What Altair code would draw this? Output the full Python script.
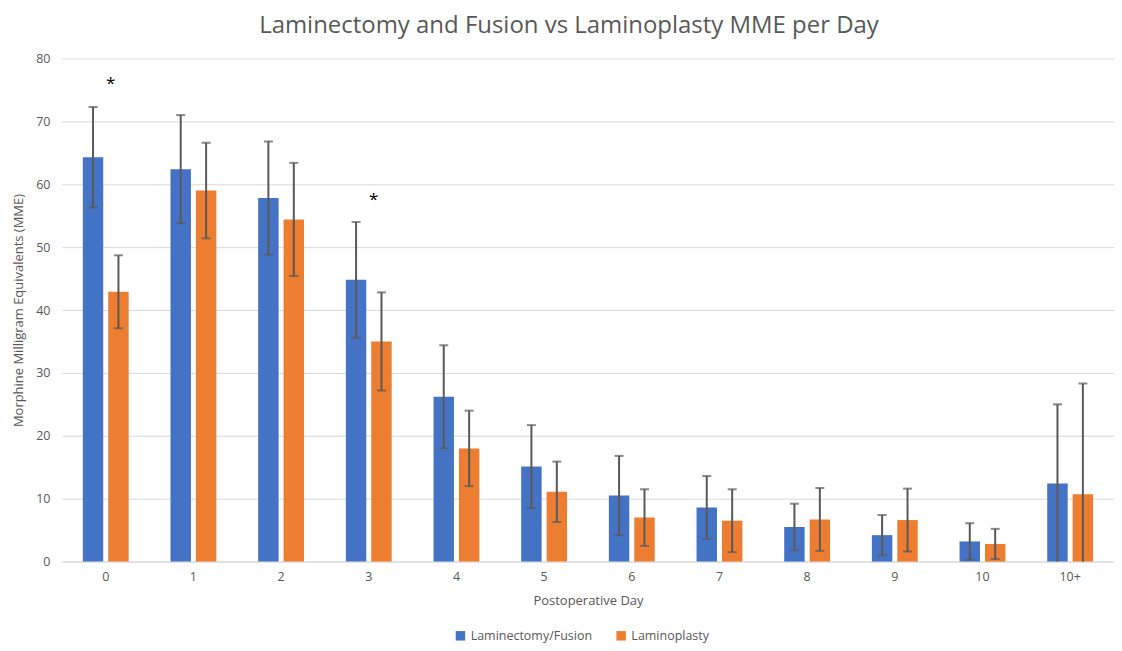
import altair as alt
import pandas as pd

days = ["0", "1", "2", "3", "4", "5", "6", "7", "8", "9", "10", "10+"]
series = ["Laminectomy/Fusion", "Laminoplasty"]
fusion_mean = [64.3, 62.4, 57.8, 44.8, 26.2, 15.1, 10.5, 8.6, 5.5, 4.2, 3.2, 12.4]
fusion_err = [8.0, 8.6, 9.0, 9.2, 8.2, 6.6, 6.3, 5.0, 3.7, 3.2, 2.9, 12.6]
plasty_mean = [42.9, 59.0, 54.4, 35.0, 18.0, 11.1, 7.0, 6.5, 6.7, 6.6, 2.8, 10.7]
plasty_err = [5.8, 7.6, 9.0, 7.8, 6.0, 4.8, 4.5, 5.0, 5.0, 5.0, 2.4, 17.6]
sig_days = ["0", "3"]
sig_y = [76.5, 58.1]

rows = []
for s, means, errs in [(series[0], fusion_mean, fusion_err), (series[1], plasty_mean, plasty_err)]:
    for d, m, e in zip(days, means, errs):
        rows.append({"day": d, "series": s, "mean": m,
                     "low": max(0.0, m - e), "high": m + e})
df = pd.DataFrame(rows)
sig = pd.DataFrame({"day": sig_days, "y": sig_y})

grey = "#595959"
font = "Open Sans"

x_enc = alt.X("day:N", sort=days,
              scale=alt.Scale(paddingInner=0.477, paddingOuter=0.2385),
              axis=alt.Axis(title="Postoperative Day", labelAngle=0, ticks=False,
                            domainColor="#d9d9d9", labelPadding=9, titlePadding=12))
xo_enc = alt.XOffset("series:N", sort=series,
                     scale=alt.Scale(paddingInner=0.196, paddingOuter=0))

base = alt.Chart(df).encode(x=x_enc, xOffset=xo_enc)

bars = base.mark_bar().encode(
    y=alt.Y("mean:Q", scale=alt.Scale(domain=[0, 80]),
            axis=alt.Axis(title="Morphine Milligram Equivalents (MME)",
                          values=list(range(0, 81, 10)), domain=False, ticks=False,
                          labelPadding=12, titlePadding=10)),
    color=alt.Color("series:N", sort=series,
                    scale=alt.Scale(domain=series, range=["#4472C4", "#ED7D31"]),
                    legend=alt.Legend(title=None, orient="none", legendX=393, legendY=572,
                                      direction="horizontal", symbolType="square",
                                      symbolSize=90, columnPadding=22,
                                      labelFontSize=12.5, labelColor=grey, labelFont=font)),
)

whisk = base.mark_rule(color=grey, strokeWidth=2).encode(y="low:Q", y2="high:Q")
cap_hi = base.mark_tick(color=grey, size=9, thickness=2).encode(y="high:Q")
cap_lo = base.transform_filter("datum.low > 0").mark_tick(color=grey, size=9, thickness=2).encode(y="low:Q")

stars = alt.Chart(sig).mark_text(text="*", fontSize=17, color="black", dx=5, dy=4,
                                 baseline="middle", font=font).encode(
    x=alt.X("day:N", sort=days), y="y:Q")

chart = alt.layer(bars, whisk, cap_hi, cap_lo, stars).properties(
    width=1054, height=504,
    title=alt.TitleParams("Laminectomy and Fusion vs Laminoplasty MME per Day",
                          fontSize=24, font=font, fontWeight="normal", color=grey,
                          offset=15, dx=-19),
    autosize=alt.AutoSizeParams(type="none"),
    padding={"left": 54, "top": 50, "right": 0, "bottom": 81},
).configure_view(stroke=None).configure_axis(
    labelColor=grey, labelFontSize=12.5, labelFont=font,
    titleColor=grey, titleFontSize=13, titleFont=font, titleFontWeight="normal",
    gridColor="#d9d9d9", gridWidth=1,
).configure_axisX(grid=False)

chart.save("out.html", embed_options={"renderer": "svg", "actions": False})
